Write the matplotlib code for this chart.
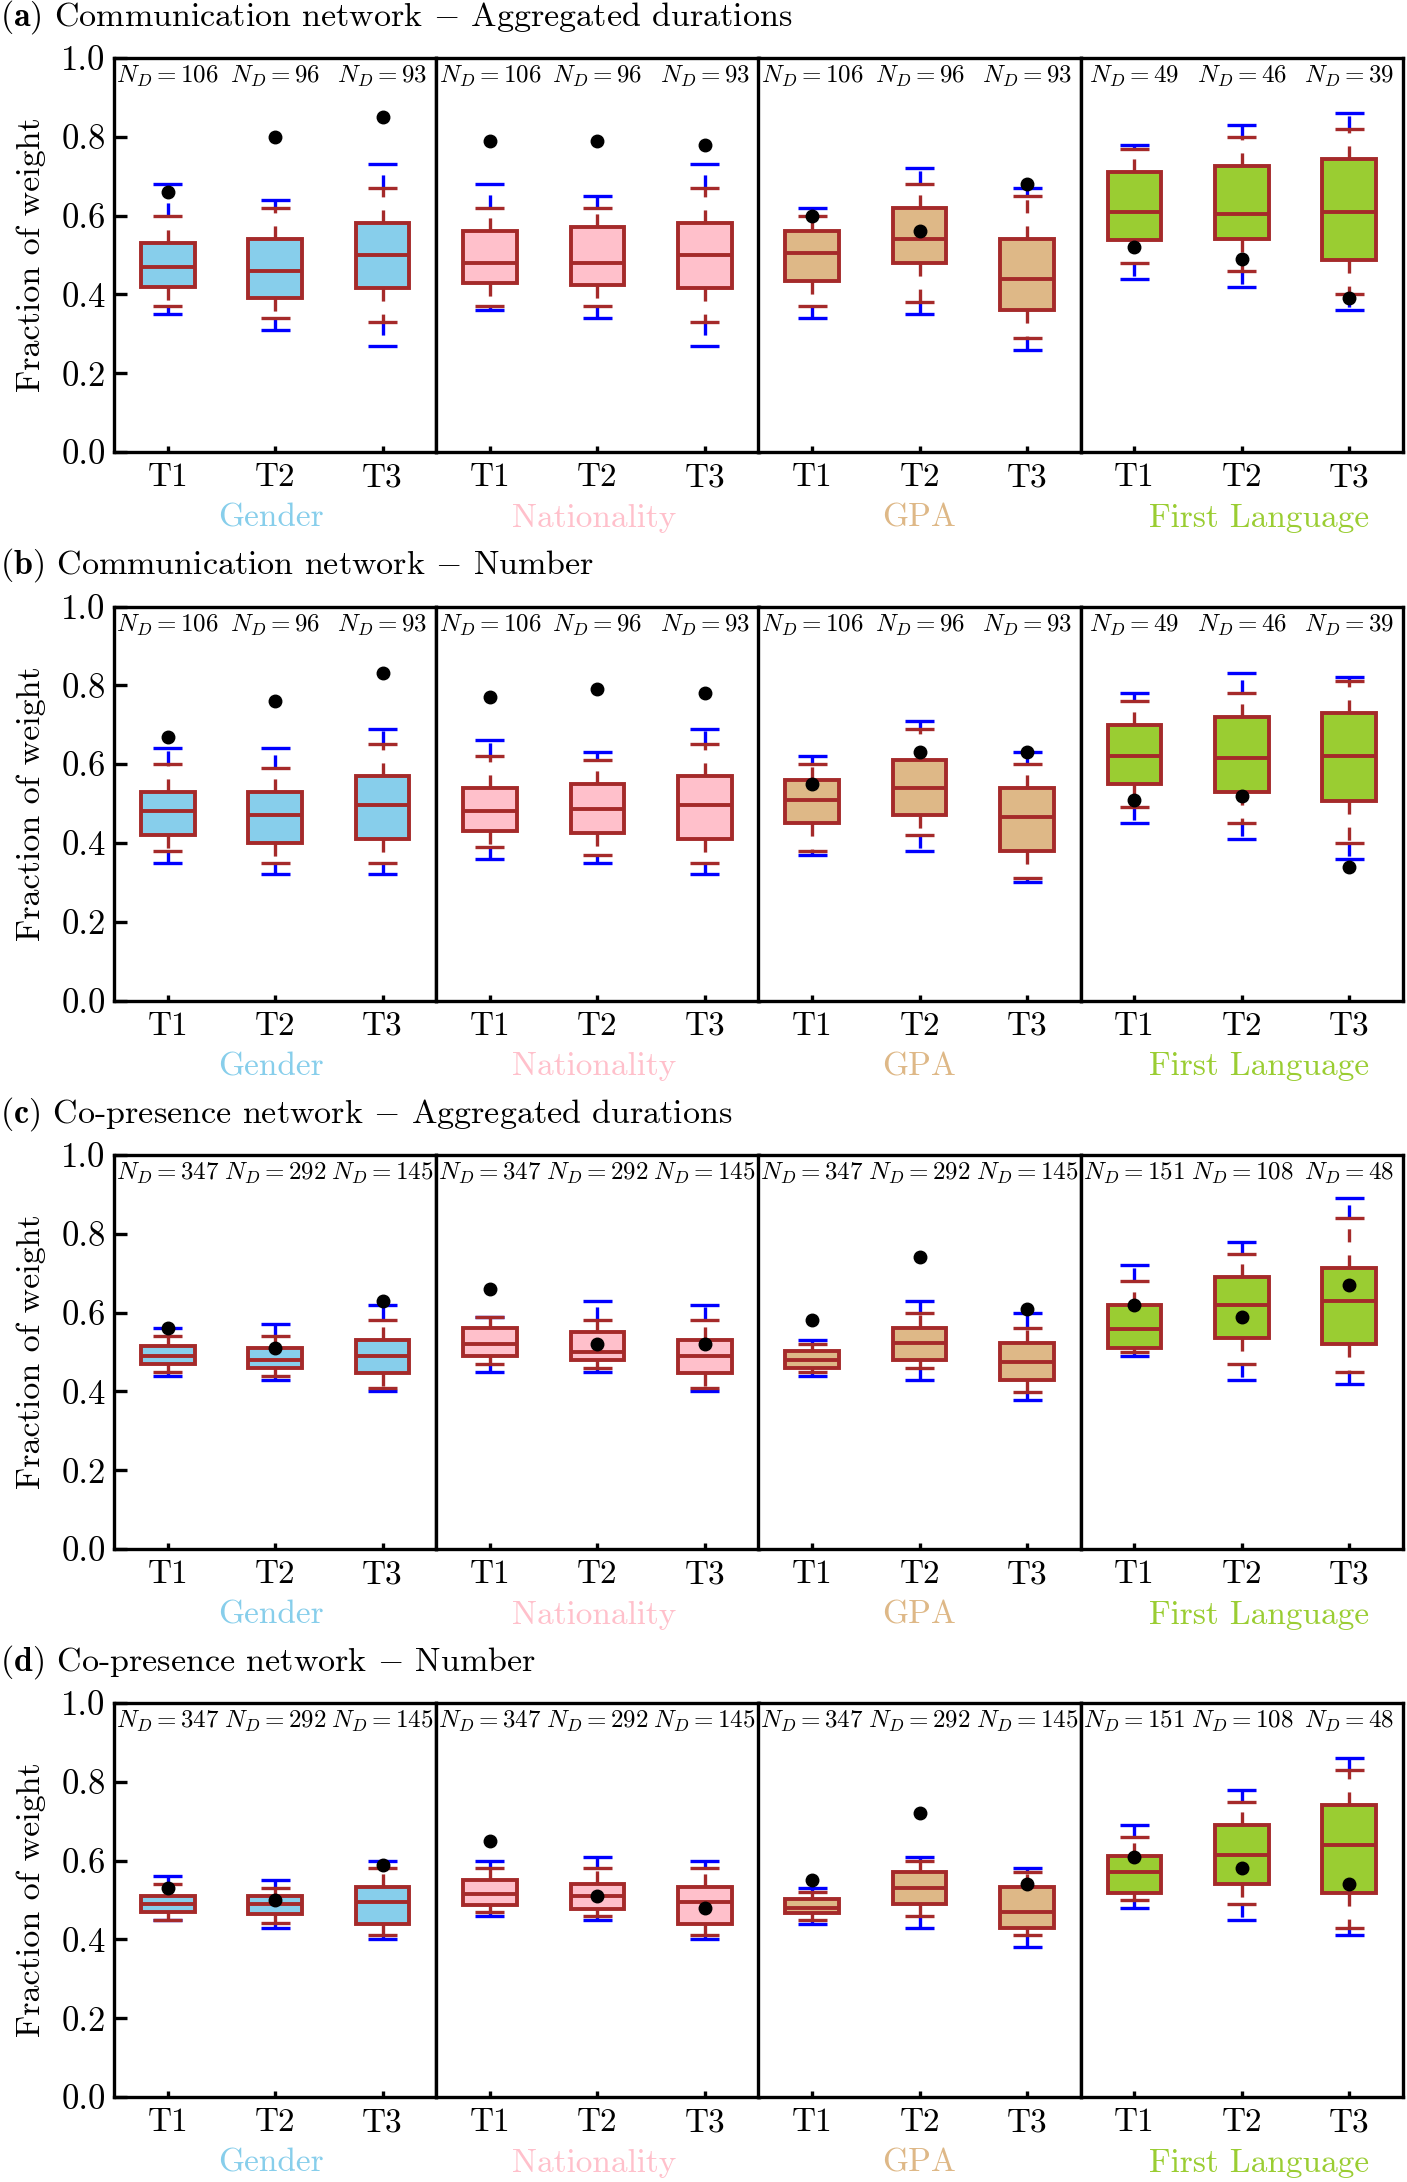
import numpy as np
import matplotlib
matplotlib.use("Agg")
import matplotlib.pyplot as plt

plt.rcParams['font.family'] = 'serif'
plt.rcParams['font.serif'] = ['cmr10']
plt.rcParams['mathtext.fontset'] = 'cm'
plt.rcParams['axes.formatter.use_mathtext'] = True
plt.rcParams['axes.unicode_minus'] = False
plt.rcParams['lines.scale_dashes'] = False

# ---------------- data ----------------
panel_titles = [r"$\mathbf{(a)}$ Communication network $-$ Aggregated durations",
                r"$\mathbf{(b)}$ Communication network $-$ Number",
                r"$\mathbf{(c)}$ Co-presence network $-$ Aggregated durations",
                r"$\mathbf{(d)}$ Co-presence network $-$ Number"]
groups = ['Gender', 'Nationality', 'GPA', 'First Language']
times = ['T1', 'T2', 'T3']
y_ticks = [0.0, 0.2, 0.4, 0.6, 0.8, 1.0]

nd_comm = [[106, 96, 93], [106, 96, 93], [106, 96, 93], [49, 46, 39]]
nd_copres = [[347, 292, 145], [347, 292, 145], [347, 292, 145], [151, 108, 48]]

# row (a): per group, T1..T3
a_blue_hi = [[0.68, 0.64, 0.73], [0.68, 0.65, 0.73], [0.62, 0.72, 0.67], [0.78, 0.83, 0.86]]
a_red_hi  = [[0.60, 0.62, 0.67], [0.62, 0.62, 0.67], [0.60, 0.68, 0.65], [0.77, 0.80, 0.82]]
a_q3      = [[0.53, 0.54, 0.58], [0.56, 0.57, 0.58], [0.56, 0.62, 0.54], [0.71, 0.725, 0.743]]
a_med     = [[0.47, 0.46, 0.50], [0.48, 0.48, 0.50], [0.505, 0.54, 0.44], [0.61, 0.605, 0.61]]
a_q1      = [[0.42, 0.39, 0.415], [0.43, 0.425, 0.415], [0.435, 0.48, 0.36], [0.538, 0.54, 0.488]]
a_red_lo  = [[0.37, 0.34, 0.33], [0.37, 0.37, 0.33], [0.37, 0.38, 0.29], [0.48, 0.46, 0.40]]
a_blue_lo = [[0.35, 0.31, 0.27], [0.36, 0.34, 0.27], [0.34, 0.35, 0.26], [0.44, 0.42, 0.36]]
a_obs     = [[0.66, 0.80, 0.85], [0.79, 0.79, 0.78], [0.60, 0.56, 0.68], [0.52, 0.49, 0.39]]

# row (b)
b_blue_hi = [[0.64, 0.64, 0.69], [0.66, 0.63, 0.69], [0.62, 0.71, 0.63], [0.78, 0.83, 0.82]]
b_red_hi  = [[0.60, 0.59, 0.65], [0.62, 0.61, 0.65], [0.60, 0.69, 0.60], [0.76, 0.78, 0.81]]
b_q3      = [[0.53, 0.53, 0.57], [0.54, 0.55, 0.57], [0.56, 0.61, 0.54], [0.70, 0.72, 0.73]]
b_med     = [[0.48, 0.47, 0.495], [0.48, 0.485, 0.495], [0.51, 0.54, 0.465], [0.62, 0.615, 0.62]]
b_q1      = [[0.42, 0.40, 0.41], [0.43, 0.425, 0.41], [0.45, 0.47, 0.38], [0.55, 0.53, 0.507]]
b_red_lo  = [[0.38, 0.35, 0.35], [0.39, 0.37, 0.35], [0.38, 0.42, 0.31], [0.49, 0.45, 0.40]]
b_blue_lo = [[0.35, 0.32, 0.32], [0.36, 0.35, 0.32], [0.37, 0.38, 0.30], [0.45, 0.41, 0.36]]
b_obs     = [[0.67, 0.76, 0.83], [0.77, 0.79, 0.78], [0.55, 0.63, 0.63], [0.51, 0.52, 0.34]]

# row (c)
c_blue_hi = [[0.56, 0.57, 0.62], [0.59, 0.63, 0.62], [0.53, 0.63, 0.60], [0.72, 0.78, 0.89]]
c_red_hi  = [[0.54, 0.54, 0.58], [0.59, 0.58, 0.58], [0.52, 0.60, 0.56], [0.68, 0.75, 0.84]]
c_q3      = [[0.514, 0.51, 0.53], [0.561, 0.551, 0.531], [0.502, 0.561, 0.522], [0.619, 0.69, 0.712]]
c_med     = [[0.49, 0.48, 0.49], [0.52, 0.50, 0.49], [0.48, 0.524, 0.475], [0.559, 0.619, 0.63]]
c_q1      = [[0.469, 0.459, 0.446], [0.489, 0.479, 0.446], [0.459, 0.479, 0.429], [0.51, 0.536, 0.52]]
c_red_lo  = [[0.449, 0.439, 0.408], [0.469, 0.459, 0.408], [0.449, 0.459, 0.399], [0.50, 0.469, 0.449]]
c_blue_lo = [[0.439, 0.429, 0.40], [0.449, 0.449, 0.40], [0.439, 0.429, 0.379], [0.49, 0.429, 0.419]]
c_obs     = [[0.56, 0.51, 0.63], [0.66, 0.52, 0.52], [0.58, 0.74, 0.61], [0.62, 0.59, 0.67]]

# row (d)
d_blue_hi = [[0.56, 0.55, 0.60], [0.60, 0.61, 0.60], [0.53, 0.61, 0.58], [0.69, 0.78, 0.86]]
d_red_hi  = [[0.54, 0.53, 0.58], [0.58, 0.58, 0.58], [0.52, 0.60, 0.57], [0.66, 0.75, 0.83]]
d_q3      = [[0.51, 0.51, 0.532], [0.55, 0.54, 0.532], [0.502, 0.57, 0.532], [0.611, 0.69, 0.74]]
d_med     = [[0.49, 0.49, 0.494], [0.515, 0.509, 0.494], [0.48, 0.53, 0.469], [0.57, 0.614, 0.639]]
d_q1      = [[0.469, 0.465, 0.438], [0.488, 0.478, 0.438], [0.466, 0.489, 0.428], [0.519, 0.54, 0.519]]
d_red_lo  = [[0.45, 0.441, 0.41], [0.469, 0.46, 0.41], [0.449, 0.459, 0.41], [0.499, 0.489, 0.43]]
d_blue_lo = [[0.45, 0.43, 0.40], [0.46, 0.45, 0.40], [0.44, 0.429, 0.38], [0.479, 0.449, 0.41]]
d_obs     = [[0.53, 0.50, 0.59], [0.65, 0.51, 0.48], [0.55, 0.72, 0.54], [0.61, 0.58, 0.54]]

rows = [
    (a_blue_hi, a_red_hi, a_q3, a_med, a_q1, a_red_lo, a_blue_lo, a_obs, nd_comm),
    (b_blue_hi, b_red_hi, b_q3, b_med, b_q1, b_red_lo, b_blue_lo, b_obs, nd_comm),
    (c_blue_hi, c_red_hi, c_q3, c_med, c_q1, c_red_lo, c_blue_lo, c_obs, nd_copres),
    (d_blue_hi, d_red_hi, d_q3, d_med, d_q1, d_red_lo, d_blue_lo, d_obs, nd_copres),
]

# ---------------- style ----------------
fill_colors = ['#87CEEB', '#FFC0CB', '#DEB887', '#9ACD32']
brown = '#A52A2A'
blue = '#0000FF'
label_x = [0.487, 0.49, 0.497, 0.553]

W, H = 1407, 2182
xs = [114, 436.25, 758.5, 1080.75, 1403]
tops = [58, 606.5, 1155, 1703]
AH = 394
LW = 2.4
DASH = (9.4, 9.4)
BOXW = 0.5
CAPW = 0.27

fig = plt.figure(figsize=(W / 100, H / 100), dpi=100)

for r, (bhi, rhi, q3, med, q1, rlo, blo, obs, nd) in enumerate(rows):
    fig.text(0.0, 1 - (tops[r] - 41) / H, panel_titles[r], fontsize=24.5,
             ha='left', va='center')
    fig.text(31 / W, 1 - (tops[r] + AH / 2) / H, 'Fraction of weight', fontsize=24.5,
             rotation=90, ha='center', va='center')
    for g in range(4):
        ax = fig.add_axes([xs[g] / W, 1 - (tops[r] + AH) / H,
                           (xs[g + 1] - xs[g]) / W, AH / H])
        pos = np.arange(1, len(times) + 1)
        stats = [dict(med=med[g][t], q1=q1[g][t], q3=q3[g][t],
                      whislo=rlo[g][t], whishi=rhi[g][t], fliers=[])
                 for t in range(len(times))]
        # blue outer whiskers and caps
        for t, p in enumerate(pos):
            ax.plot([p, p], [rhi[g][t], bhi[g][t]], color=blue, lw=LW, dashes=DASH,
                    zorder=2, dash_capstyle='butt')
            ax.plot([p, p], [rlo[g][t], blo[g][t]], color=blue, lw=LW, dashes=DASH,
                    zorder=2, dash_capstyle='butt')
            ax.plot([p - CAPW / 2, p + CAPW / 2], [bhi[g][t]] * 2, color=blue, lw=LW,
                    solid_capstyle='butt', zorder=2)
            ax.plot([p - CAPW / 2, p + CAPW / 2], [blo[g][t]] * 2, color=blue, lw=LW,
                    solid_capstyle='butt', zorder=2)
        bp = ax.bxp(stats, positions=pos, widths=BOXW, capwidths=CAPW, patch_artist=True,
                    showfliers=False, manage_ticks=False, zorder=3,
                    boxprops=dict(facecolor=fill_colors[g], edgecolor=brown, linewidth=LW + 0.4),
                    medianprops=dict(color=brown, linewidth=LW + 0.4, solid_capstyle='butt'),
                    whiskerprops=dict(color=brown, linewidth=LW),
                    capprops=dict(color=brown, linewidth=LW, solid_capstyle='butt'))
        for wl in bp['whiskers']:
            wl.set_dashes(DASH)
            wl.set_dash_capstyle('butt')
        ax.plot(pos, obs[g], 'o', color='black', ms=9, zorder=6)
        for t, p in enumerate(pos):
            ax.text(p, 0.985, r"$N_D = %d$" % nd[g][t], ha='center', va='top',
                    fontsize=18, transform=ax.get_xaxis_transform())
        ax.set_xlim(0.5, 3.5)
        ax.set_ylim(0, 1)
        ax.set_xticks(pos)
        ax.set_xticklabels(times)
        ax.tick_params(axis='x', direction='in', length=4, width=LW, labelsize=24,
                       pad=8, top=False)
        if g == 0:
            ax.set_yticks(y_ticks)
            ax.set_yticklabels(['%.1f' % v for v in y_ticks])
            ax.tick_params(axis='y', direction='in', length=9.5, width=LW, labelsize=25,
                           pad=6, right=False)
        else:
            ax.tick_params(axis='y', left=False, labelleft=False, right=False)
        for s in ax.spines.values():
            s.set_linewidth(LW)
        ax.text(label_x[g], -66 / AH, groups[g], color=fill_colors[g], fontsize=24,
                ha='center', va='center', transform=ax.transAxes)

fig.savefig('out.png', dpi=100)
